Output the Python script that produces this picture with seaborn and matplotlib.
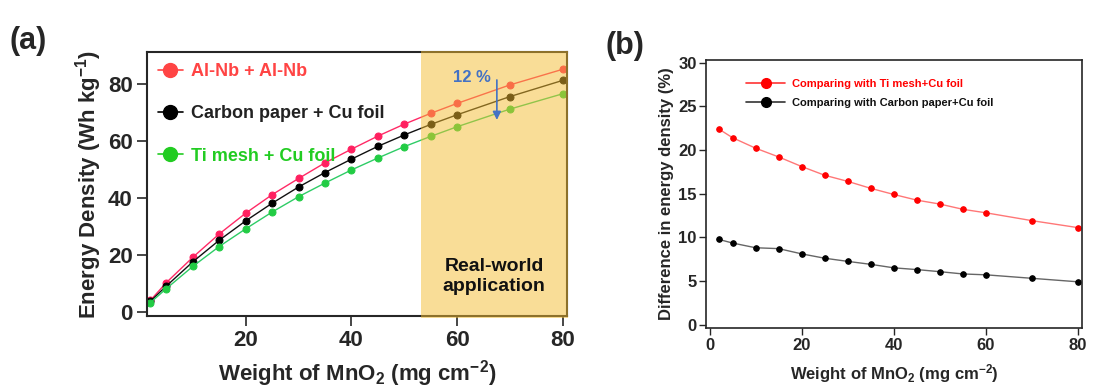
import numpy as np
import pandas as pd
import matplotlib
matplotlib.use("Agg")
import matplotlib.pyplot as plt
from matplotlib.lines import Line2D
import seaborn as sns

# data
weight = [2, 5, 10, 15, 20, 25, 30, 35, 40, 45, 50, 55, 60, 70, 80]
alnb = [4.1, 10.3, 19.2, 27.4, 34.7, 41.2, 46.9, 52.4, 57.2, 61.8, 66.0, 69.8, 73.3, 79.8, 85.3]
carbon = [3.8, 9.1, 17.6, 25.2, 32.0, 38.2, 43.9, 49.0, 53.7, 58.2, 62.2, 65.9, 69.3, 75.7, 81.4]
timesh = [3.3, 8.2, 16.0, 23.0, 29.2, 35.1, 40.5, 45.3, 49.9, 54.1, 58.1, 61.7, 65.1, 71.3, 76.7]

diff_ti = [22.4, 21.4, 20.2, 19.2, 18.1, 17.1, 16.4, 15.6, 14.9, 14.25, 13.8, 13.2, 12.8, 11.9, 11.1]
diff_cp = [9.76, 9.34, 8.8, 8.7, 8.1, 7.6, 7.24, 6.9, 6.5, 6.3, 6.06, 5.8, 5.7, 5.3, 4.9]

labels_a = ["Al-Nb + Al-Nb", "Carbon paper + Cu foil", "Ti mesh + Cu foil"]
labels_b = ["Comparing with Ti mesh+Cu foil", "Comparing with Carbon paper+Cu foil"]

sns.set_style("ticks")
plt.rcParams['font.family'] = ['Liberation Sans', 'DejaVu Sans']
plt.rcParams['font.weight'] = 'bold'
plt.rcParams['axes.labelweight'] = 'bold'
plt.rcParams['mathtext.fontset'] = 'custom'
plt.rcParams['mathtext.rm'] = 'Liberation Sans:bold'
plt.rcParams['mathtext.default'] = 'rm'

fig = plt.figure(figsize=(10.95, 3.92), dpi=100)
ax1 = fig.add_axes([0.134, 0.194, 0.384, 0.673])
ax2 = fig.add_axes([0.645, 0.163, 0.343, 0.684])

# ---- (a) energy density
cols_a = ["#FF2A66", "#111111", "#2ECC66"]
mk_a = ["#FF2060", "#000000", "#22CC44"]
for ys, c, m in zip([alnb, carbon, timesh], cols_a, mk_a):
    sns.lineplot(x=weight, y=ys, ax=ax1, color=c, linewidth=1.0, marker="o",
                 markersize=5, markerfacecolor=m, markeredgecolor=m, zorder=2)

# shaded "real-world" zone, drawn over the spines so they turn olive
ax1.axvspan(53.2, 81.0, ymin=-0.006, ymax=1.006, facecolor="#F5BD30", alpha=0.5,
            edgecolor="none", zorder=3, clip_on=False)
ax1.text(67.0, 12.5, "Real-world\napplication", ha="center", va="center",
         fontsize=14, fontweight="bold", color="#111111", zorder=4, linespacing=1.2)
ax1.text(62.7, 82.5, "12 %", ha="center", va="center", fontsize=12,
         fontweight="bold", color="#4472C4", zorder=4)
ax1.annotate("", xy=(67.5, 66.5), xytext=(67.5, 82.5),
             arrowprops=dict(arrowstyle="-|>", color="#4472C4", lw=1.2,
                             mutation_scale=12), zorder=4)

ax1.set_xlim(1.3, 80.8)
ax1.set_ylim(-1.4, 91.3)
ax1.set_xticks([20, 40, 60, 80])
ax1.set_yticks([0, 20, 40, 60, 80])
ax1.tick_params(direction="out", length=7, width=1.2, labelsize=16, pad=3)
for s in ax1.spines.values():
    s.set_linewidth(1.5)
ax1.set_xlabel(r"Weight of MnO$_2$ (mg cm$^{-2}$)", fontsize=16, labelpad=5)
ax1.set_ylabel(r"Energy Density (Wh kg$^{-1}$)", fontsize=16, labelpad=3)

h_a = [Line2D([], [], color=c, marker="o", markersize=10, linewidth=1.2,
              markerfacecolor=c, markeredgecolor=c)
       for c in ["#FF4444", "#000000", "#22CC22"]]
leg = ax1.legend(h_a, labels_a, loc="upper left", frameon=False, fontsize=13,
                 handlelength=1.4, handletextpad=0.45, labelspacing=1.4,
                 borderaxespad=0.2, bbox_to_anchor=(0.0, 1.0))
for t, c in zip(leg.get_texts(), ["#FF4444", "#222222", "#22CC22"]):
    t.set_color(c)

# ---- (b) difference
sns.lineplot(x=weight, y=diff_ti, ax=ax2, color="#FF7777", linewidth=1.0,
             marker="o", markersize=4, markerfacecolor="#FF0000",
             markeredgecolor="#FF0000")
sns.lineplot(x=weight, y=diff_cp, ax=ax2, color="#666666", linewidth=1.0,
             marker="o", markersize=4, markerfacecolor="#000000",
             markeredgecolor="#000000")
ax2.set_xlim(-0.7, 80.8)
ax2.set_ylim(-0.4, 30.3)
ax2.set_xticks([0, 20, 40, 60, 80])
ax2.set_yticks([0, 5, 10, 15, 20, 25, 30])
ax2.tick_params(direction="out", length=5, width=1.0, labelsize=12, pad=2)
for s in ax2.spines.values():
    s.set_linewidth(1.2)
ax2.set_xlabel(r"Weight of MnO$_2$ (mg cm$^{-2}$)", fontsize=12, labelpad=7)
ax2.set_ylabel("Difference in energy density (%)", fontsize=12, labelpad=3)

h_b = [Line2D([], [], color=c, marker="o", markersize=7, linewidth=1.2,
              markerfacecolor=m, markeredgecolor=m)
       for c, m in [("#FF3333", "#FF0000"), ("#333333", "#000000")]]
leg2 = ax2.legend(h_b, labels_b, loc="upper left", frameon=False, fontsize=8,
                  handlelength=3.5, handletextpad=0.6, labelspacing=0.8,
                  bbox_to_anchor=(0.08, 0.965))
for t, c in zip(leg2.get_texts(), ["#FF0000", "#111111"]):
    t.set_color(c)

fig.text(0.009, 0.875, "(a)", fontsize=22, fontweight="bold")
fig.text(0.553, 0.862, "(b)", fontsize=22, fontweight="bold")

fig.savefig("out.png", dpi=100)
